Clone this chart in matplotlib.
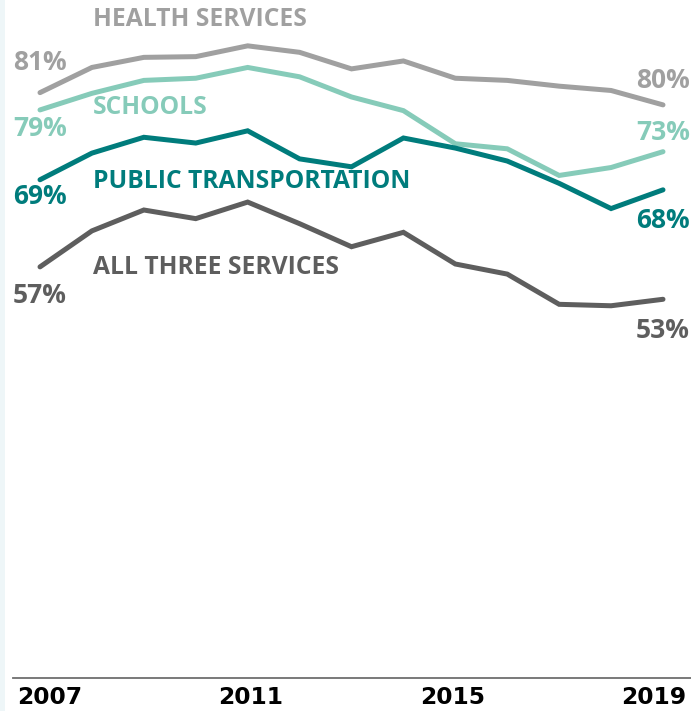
import matplotlib
matplotlib.use("Agg")
import matplotlib.pyplot as plt
from matplotlib.patches import Rectangle

years = list(range(2007, 2020))
health = [81.3, 84.8, 86.2, 86.3, 87.8, 86.9, 84.6, 85.7, 83.3, 83.0, 82.2, 81.6, 79.6]
schools = [78.9, 81.2, 83.0, 83.3, 84.8, 83.5, 80.7, 78.8, 74.2, 73.5, 69.8, 70.9, 73.1]
transport = [69.2, 72.9, 75.1, 74.3, 76.0, 72.1, 71.0, 75.0, 73.6, 71.8, 68.7, 65.2, 67.8]
all_three = [57.1, 62.1, 65.0, 63.8, 66.1, 63.1, 59.9, 61.9, 57.5, 56.1, 51.9, 51.7, 52.6]

series_names = ["HEALTH SERVICES", "SCHOOLS", "PUBLIC TRANSPORTATION", "ALL THREE SERVICES"]
start_labels = ["81%", "79%", "69%", "57%"]
end_labels = ["80%", "73%", "68%", "53%"]
tick_years = [2007, 2011, 2015, 2019]

colors = ["#a0a0a0", "#86cbb9", "#007c7c", "#5e5e5e"]

W, H = 691, 711
fig = plt.figure(figsize=(W / 100, H / 100), dpi=100)
fig.patch.set_facecolor("white")
fig.patches.append(Rectangle((0, 0), 5 / W, 1, transform=fig.transFigure,
                             facecolor="#eef6f8", edgecolor="none", zorder=0))

ax = fig.add_axes([13 / W, 33 / H, 678 / W, 678 / H])
ax.set_facecolor("none")
ppy = 51.9
ax.set_xlim(2007 - 27 / ppy, 2019 + 28 / ppy)
ax.set_ylim(0, 678 / 7.2)

FONT = "Open Sans"
data = [health, schools, transport, all_three]
for vals, c in zip(data, colors):
    ax.plot(years, vals, color=c, lw=3.6, solid_joinstyle="miter", solid_capstyle="round")

for sp in ["top", "right", "left"]:
    ax.spines[sp].set_visible(False)
ax.spines["bottom"].set_color("#6e6e6e")
ax.spines["bottom"].set_linewidth(1.3)
ax.set_yticks([])
ax.set_xticks([])

# year labels
tick_offsets = {2007: 10, 2011: 3, 2015: -3, 2019: -9}
for y in tick_years:
    ax.annotate(str(y), xy=(y, 0), xytext=(tick_offsets[y] * 0.72, -6), textcoords="offset points",
                ha="center", va="top", fontsize=16.8, fontweight="bold",
                family="DejaVu Sans", color="black", annotation_clip=False)

def fig_text(px, py, s, color, ha="left", size=19):
    fig.text(px / W, 1 - py / H, s, color=color, ha=ha, va="center",
             fontsize=size, fontweight="bold", family=FONT)

# start percentages
start_y = [62, 128, 197, 296]
for lab, yy, c in zip(start_labels, start_y, colors):
    fig_text(13, yy, lab, c)
end_y = [80, 132, 220, 331]
for lab, yy, c in zip(end_labels, end_y, colors):
    fig_text(690, yy, lab, c, ha="right")
name_y = [20, 108, 181, 268]
for lab, yy, c in zip(series_names, name_y, colors):
    fig_text(93, yy, lab, c, size=17.7)

fig.savefig("out.png", dpi=100, facecolor="white")
